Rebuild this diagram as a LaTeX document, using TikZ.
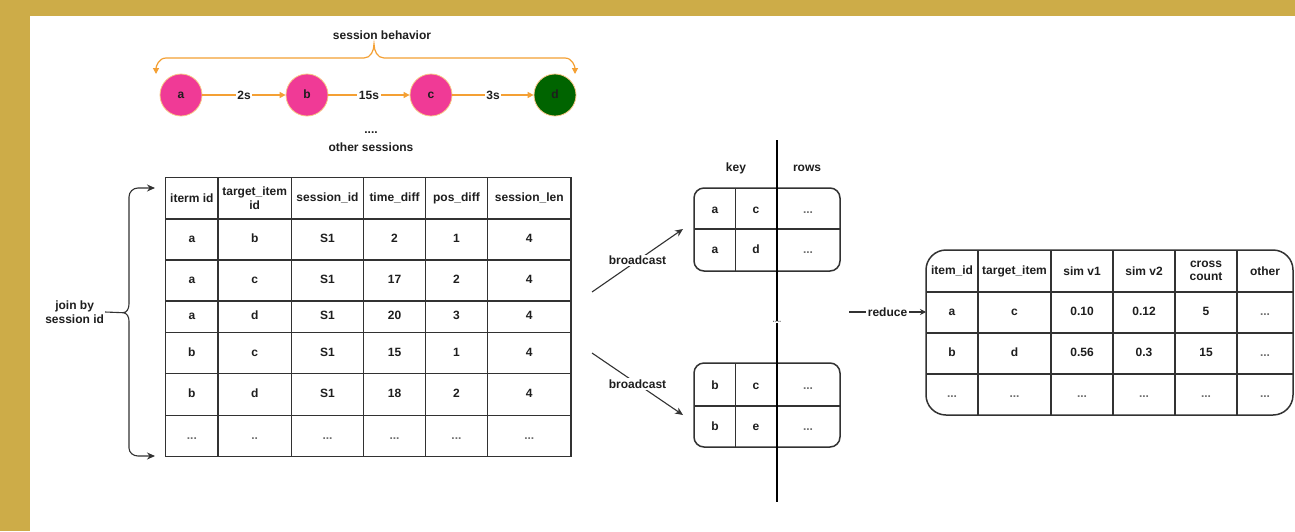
\documentclass[tikz,border=0pt]{standalone}
\usepackage{fontspec}
\setmainfont{Liberation Sans}
\usetikzlibrary{arrows.meta}
\definecolor{gold}{RGB}{205,172,72}
\definecolor{hotpink}{RGB}{240,58,150}
\definecolor{dgreen}{RGB}{0,100,0}
\definecolor{orng}{RGB}{244,160,52}
\definecolor{ink}{RGB}{30,30,30}
\definecolor{gridc}{RGB}{50,50,50}
\definecolor{elc}{RGB}{110,110,110}
\newcommand\ellp{\textcolor{elc}{...}}
\newcommand\bigrow[9]{%
 \node[#3] (#2-1) at (191.85,#1) {#4};
 \node[#3] (#2-2) at (254.7,#1) {#5};
 \node[#3] (#2-3) at (327.5,#1) {#6};
 \node[#3] (#2-4) at (394.5,#1) {#7};
 \node[#3] (#2-5) at (456.45,#1) {#8};
 \node[#3] (#2-6) at (529.25,#1) {#9};}
\newcommand\resrow[9]{%
 \node[#3] (#2-1) at (952,#1) {#4};
 \node[#3] (#2-2) at (1014.5,#1) {#5};
 \node[#3] (#2-3) at (1082,#1) {#6};
 \node[#3] (#2-4) at (1144,#1) {#7};
 \node[#3] (#2-5) at (1206,#1) {#8};
 \node[#3] (#2-6) at (1265,#1) {#9};}
\begin{document}
\begin{tikzpicture}[x=1pt,y=-1pt,
  txt/.style={font=\fontsize{12}{13.5}\selectfont\bfseries, text=ink, inner sep=1pt},
  hcell/.style={txt, align=center, anchor=center},
  cell/.style={txt, align=center, anchor=center, text height=8.6pt, text depth=2.4pt},
  ball/.style={circle, minimum size=42pt, inner sep=0pt, draw=orng!60, line width=0.8pt, txt, text height=8.6pt, text depth=2.4pt},
  oarrow/.style={draw=orng, line width=1.2pt, -{Triangle[length=6pt,width=6pt]}},
  karrow/.style={draw=gridc, line width=1.1pt, -{Stealth[length=8pt,width=7pt]}},
  lbl/.style={txt, fill=white, inner sep=1.5pt},
  tline/.style={draw=gridc, line width=1.5pt},
  boxc/.style={draw=gridc, line width=1.5pt, inner sep=0pt}
]
\useasboundingbox (0,0) rectangle (1295,531);
\fill[white] (0,0) rectangle (1295,531);
\fill[gold] (0,0) rectangle (1295,16);
\fill[gold] (0,0) rectangle (30,531);

% ---- session behaviour
\node[txt] (sb) at (382,35) {session behavior};
\draw[orng, line width=1.2pt, {Triangle[length=6pt,width=6pt]}-{Triangle[length=6pt,width=6pt]}]
  (156,74) to[out=90,in=180] (166,58) -- (364,58) to[out=0,in=-90] (374,44)
  to[out=-90,in=180] (384,58) -- (565,58) to[out=0,in=90] (575,74);
\node[ball, fill=hotpink] (a) at (181,95) {a};
\node[ball, fill=hotpink] (b) at (307,95) {b};
\node[ball, fill=hotpink] (c) at (431,95) {c};
\node[ball, fill=dgreen] (d) at (555,95) {d};
\draw[oarrow] (a) -- node[lbl]{2s} (b);
\draw[oarrow] (b) -- node[lbl]{15s} (c);
\draw[oarrow] (c) -- node[lbl]{3s} (d);
\node[txt] (dots1) at (371,133) {....};
\node[txt] (os) at (371,147) {other sessions};

% ---- big table
\draw[tline] (165.7,177.3) rectangle (571,456.7);
\foreach \x in {218,291.4,363.6,425.4,487.5} \draw[tline] (\x,177.3) -- (\x,456.7);
\foreach \y in {219,260,301,332.7,373.7,415.7} \draw[tline] (165.7,\y) -- (571,\y);
\bigrow{198}{th}{hcell}{iterm id}{target\_item\\id}{session\_id}{time\_diff}{pos\_diff}{session\_len}
\bigrow{239.5}{ta}{cell}{a}{b}{S1}{2}{1}{4}
\bigrow{280.5}{tb}{cell}{a}{c}{S1}{17}{2}{4}
\bigrow{316.85}{tc}{cell}{a}{d}{S1}{20}{3}{4}
\bigrow{353.2}{td}{cell}{b}{c}{S1}{15}{1}{4}
\bigrow{394.7}{te}{cell}{b}{d}{S1}{18}{2}{4}
\bigrow{436.2}{tf}{cell}{\ellp}{\textcolor{elc}{..}}{\ellp}{\ellp}{\ellp}{\ellp}

% ---- join brace
\node[txt, align=center] (join) at (74.6,312) {join by\\session id};
\coordinate (jtip) at (123,312.7);
\coordinate (btop) at (155,188);
\coordinate (bbot) at (155,456);
\draw[gridc, line width=1.1pt, {Stealth[length=8pt,width=7pt]}-{Stealth[length=8pt,width=7pt]}]
  (btop) -- (138,188) to[out=180,in=90] (129,197) -- (129,304) to[out=-90,in=0] (jtip)
  to[out=0,in=90] (129,321) -- (129,448) to[out=-90,in=180] (138,456) -- (bbot);
\draw[gridc, line width=1.1pt] (join.east) -- (jtip);

% ---- broadcast / shuffle
\coordinate (vt) at (777,140);
\coordinate (vb) at (777,502);
\node[txt] (key) at (736,168) {key};
\node[txt] (rows) at (807,168) {rows};
\node[boxc, rounded corners=10pt, minimum width=146pt, minimum height=83pt] (kb1) at (767,229.5) {};
\draw[tline] (735.7,188) -- (735.7,271);
\draw[tline] (694,229) -- (840,229);
\node[cell] (k11) at (715,210) {a};
\node[cell] (k12) at (756,210) {c};
\node[cell] (k13) at (808,210) {\ellp};
\node[cell] (k21) at (715,250) {a};
\node[cell] (k22) at (756,250) {d};
\node[cell] (k23) at (808,250) {\ellp};
\node[boxc, rounded corners=10pt, minimum width=146pt, minimum height=84pt] (kb2) at (767,405) {};
\draw[tline] (735.7,363) -- (735.7,447);
\draw[tline] (694,406) -- (840,406);
\node[cell] (m11) at (715,386) {b};
\node[cell] (m12) at (756,386) {c};
\node[cell] (m13) at (808,386) {\ellp};
\node[cell] (m21) at (715,427) {b};
\node[cell] (m22) at (756,427) {e};
\node[cell] (m23) at (808,427) {\ellp};
\draw[black, line width=2pt] (vt) -- (vb);
\node[txt, fill=white, inner sep=0.5pt, font=\fontsize{8}{9}\selectfont\bfseries, text=elc] (vdots) at (777,322) {....};

\coordinate (bs1) at (592,292); \coordinate (be1) at (683,229);
\draw[karrow] (bs1) -- node[lbl]{broadcast} (be1);
\coordinate (bs2) at (592,353); \coordinate (be2) at (683,415);
\draw[karrow] (bs2) -- node[lbl]{broadcast} (be2);

% ---- reduce
\coordinate (rs) at (849,312);
\coordinate (re) at (926,312);
\draw[gridc, line width=1.1pt, -{Stealth[length=6pt,width=6pt]}] (rs) -- node[lbl]{reduce} (re);

% ---- result table
\node[boxc, rounded corners=20pt, minimum width=367pt, minimum height=165pt] (res) at (1109.5,332.5) {};
\foreach \x in {978,1051,1113,1175,1237} \draw[tline] (\x,250) -- (\x,415);
\foreach \y in {292,333,374} \draw[tline] (926,\y) -- (1292.5,\y);
\resrow{271}{rh}{hcell}{item\_id}{target\_item}{sim v1}{sim v2}{cross\\count}{other}
\resrow{312.5}{ra}{cell}{a}{c}{0.10}{0.12}{5}{\ellp}
\resrow{353.5}{rb}{cell}{b}{d}{0.56}{0.3}{15}{\ellp}
\resrow{394.5}{rc}{cell}{\ellp}{\ellp}{\ellp}{\ellp}{\ellp}{\ellp}
\end{tikzpicture}
\end{document}
